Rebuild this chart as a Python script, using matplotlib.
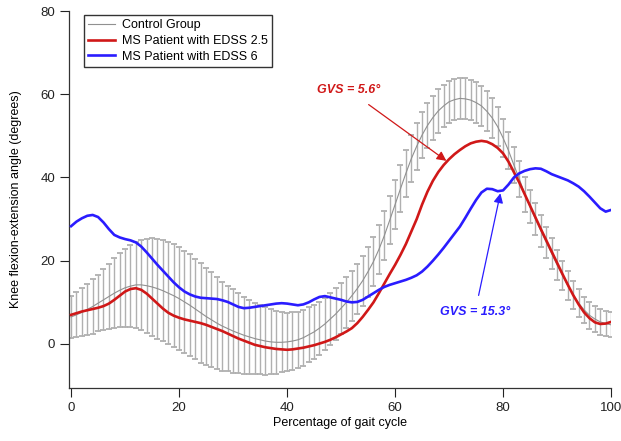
import numpy as np
import matplotlib
matplotlib.use('Agg')
import matplotlib.pyplot as plt

plt.rcParams['font.family'] = ['Liberation Sans', 'DejaVu Sans']

# gait cycle (%), one point per percent
pct = np.arange(0, 101)

# control group mean and SD (deg)
ctrl_mean = [6.5, 7.0, 7.6, 8.3, 9.0, 9.8, 10.6, 11.4, 12.2, 12.9,
             13.5, 13.9, 14.2, 14.2, 14.0, 13.7, 13.3, 12.8, 12.2, 11.6,
             10.9, 10.1, 9.3, 8.4, 7.5, 6.6, 5.8, 5.0, 4.3, 3.7,
             3.1, 2.6, 2.1, 1.7, 1.3, 1.0, 0.7, 0.5, 0.4, 0.4,
             0.5, 0.7, 1.0, 1.5, 2.2, 2.9, 3.8, 4.8, 6.0, 7.2,
             8.6, 10.0, 11.6, 13.3, 15.2, 17.4, 19.8, 22.7, 26.0, 29.7,
             33.5, 37.3, 41.0, 44.5, 47.5, 50.2, 52.5, 54.4, 56.0, 57.2,
             58.2, 58.7, 59.0, 58.9, 58.6, 58.0, 57.2, 55.9, 54.3, 52.2,
             49.5, 46.5, 43.0, 39.7, 36.0, 33.0, 30.0, 27.2, 24.4, 21.7,
             19.0, 16.5, 14.0, 11.8, 9.8, 8.2, 6.9, 6.0, 5.3, 4.9,
             4.6]
ctrl_sd = [5.0, 5.4, 5.8, 6.1, 6.5, 6.8, 7.3, 7.8, 8.4, 8.9,
           9.4, 9.9, 10.4, 10.9, 11.3, 11.7, 12.0, 12.2, 12.3, 12.4,
           12.4, 12.3, 12.2, 12.1, 12.0, 11.7, 11.4, 11.0, 10.7, 10.3,
           10.0, 9.6, 9.3, 8.9, 8.6, 8.3, 8.1, 7.8, 7.5, 7.2,
           7.0, 6.9, 6.8, 6.7, 6.6, 6.5, 6.4, 6.3, 6.2, 6.2,
           6.1, 6.1, 6.0, 6.0, 6.0, 6.0, 5.9, 5.9, 5.9, 5.8,
           5.8, 5.7, 5.7, 5.6, 5.6, 5.5, 5.4, 5.3, 5.2, 5.1,
           5.0, 5.0, 4.9, 4.9, 4.9, 4.9, 4.8, 4.8, 4.7, 4.7,
           4.6, 4.5, 4.4, 4.3, 4.2, 4.0, 3.9, 3.8, 3.7, 3.7,
           3.6, 3.5, 3.5, 3.4, 3.3, 3.2, 3.2, 3.1, 3.1, 3.0,
           3.0]

# MS patient EDSS 2.5
edss25 = [7.0, 7.4, 7.8, 8.1, 8.4, 8.7, 9.1, 9.7, 10.6, 11.6,
          12.6, 13.2, 13.4, 13.0, 12.1, 10.9, 9.7, 8.5, 7.5, 6.8,
          6.3, 5.9, 5.6, 5.3, 5.0, 4.6, 4.1, 3.6, 3.1, 2.5,
          1.9, 1.3, 0.8, 0.3, -0.2, -0.5, -0.8, -1.0, -1.2, -1.3,
          -1.4, -1.3, -1.1, -0.9, -0.6, -0.3, 0.1, 0.5, 1.0, 1.6,
          2.3, 3.0, 3.8, 5.0, 6.5, 8.2, 10.0, 12.2, 14.5, 16.8,
          19.0, 21.4, 24.0, 27.0, 30.0, 33.5, 36.6, 39.2, 41.3, 43.0,
          44.4, 45.6, 46.6, 47.5, 48.2, 48.6, 48.8, 48.6, 48.0, 47.1,
          45.8, 43.8, 41.3, 38.8, 36.0, 33.2, 30.4, 27.6, 24.9, 22.2,
          19.5, 16.8, 14.2, 11.7, 9.5, 7.6, 6.2, 5.2, 4.8, 4.9,
          5.3]

# MS patient EDSS 6
edss6 = [28.3, 29.4, 30.2, 30.8, 31.0, 30.5, 29.2, 27.6, 26.2, 25.6,
         25.2, 24.9, 24.4, 23.4, 22.0, 20.5, 19.0, 17.6, 16.2, 14.8,
         13.6, 12.6, 11.9, 11.4, 11.1, 11.0, 10.9, 10.8, 10.5, 10.1,
         9.5, 8.9, 8.6, 8.7, 8.9, 9.1, 9.3, 9.5, 9.7, 9.8,
         9.7, 9.5, 9.3, 9.5, 10.0, 10.7, 11.3, 11.5, 11.2, 10.9,
         10.6, 10.2, 10.0, 10.1, 10.6, 11.4, 12.2, 13.0, 13.7, 14.2,
         14.6, 15.0, 15.4, 15.9, 16.5, 17.4, 18.6, 20.0, 21.5, 23.1,
         24.8, 26.5, 28.2, 30.3, 32.5, 34.6, 36.4, 37.3, 37.2, 36.7,
         36.9, 38.3, 40.0, 41.0, 41.6, 42.0, 42.2, 42.1, 41.5, 40.8,
         40.3, 39.8, 39.3, 38.6, 37.8, 36.7, 35.4, 34.0, 32.6, 31.8,
         32.2]

red = '#d01818'
blue = '#2a1cff'

fig, ax = plt.subplots(figsize=(6.21, 4.41), dpi=100)
fig.subplots_adjust(left=0.111, right=0.984, bottom=0.120, top=0.975)

eb = ax.errorbar(pct, ctrl_mean, yerr=ctrl_sd, fmt='none', ecolor='#b0b0b0',
                 elinewidth=1.0, capsize=2.3, capthick=1.3, zorder=1)
for cap in eb[1]:
    cap.set_color('#c4c4c4')
ax.plot(pct, ctrl_mean, color='#909090', lw=0.8, zorder=2, label='Control Group')
ax.plot(pct, edss25, color=red, lw=1.9, zorder=3, label='MS Patient with EDSS 2.5')
ax.plot(pct, edss6, color=blue, lw=1.9, zorder=4, label='MS Patient with EDSS 6')

# GVS annotations
ax.annotate('GVS = 5.6°', xy=(69.5, 44.0), xytext=(51.4, 61.0),
            color=red, fontsize=9, fontweight='bold', fontstyle='italic',
            ha='center', va='center',
            arrowprops=dict(arrowstyle='-|>', color=red, lw=0.9,
                            mutation_scale=14, shrinkA=7, shrinkB=0))
ax.annotate('GVS = 15.3°', xy=(79.5, 36.2), xytext=(74.8, 7.6),
            color=blue, fontsize=9, fontweight='bold', fontstyle='italic',
            ha='center', va='center',
            arrowprops=dict(arrowstyle='-|>', color=blue, lw=0.9,
                            mutation_scale=14, shrinkA=6, shrinkB=0))

ax.set_xlim(-0.4, 100)
ax.set_ylim(-10.6, 80)
ax.set_xticks([0, 20, 40, 60, 80, 100])
ax.set_yticks([0, 20, 40, 60, 80])
ax.tick_params(direction='out', length=6.5, width=0.8, labelsize=9.5, colors='#222222')
for s in ['top', 'right']:
    ax.spines[s].set_visible(False)
for s in ['left', 'bottom']:
    ax.spines[s].set_color('#333333')
    ax.spines[s].set_linewidth(0.9)

ax.set_xlabel('Percentage of gait cycle', fontsize=9, labelpad=2)
ax.set_ylabel('Knee flexion-extension angle (degrees)', fontsize=9, labelpad=13)

leg = ax.legend(loc='upper left', bbox_to_anchor=(0.02, 1.0), fontsize=9,
                frameon=True, fancybox=False, shadow=False, handlelength=2.2,
                borderpad=0.35, labelspacing=0.3, handletextpad=0.5,
                borderaxespad=0.3)
leg.get_frame().set_edgecolor('black')
leg.get_frame().set_linewidth(1.0)

fig.savefig('out.png', dpi=100)
